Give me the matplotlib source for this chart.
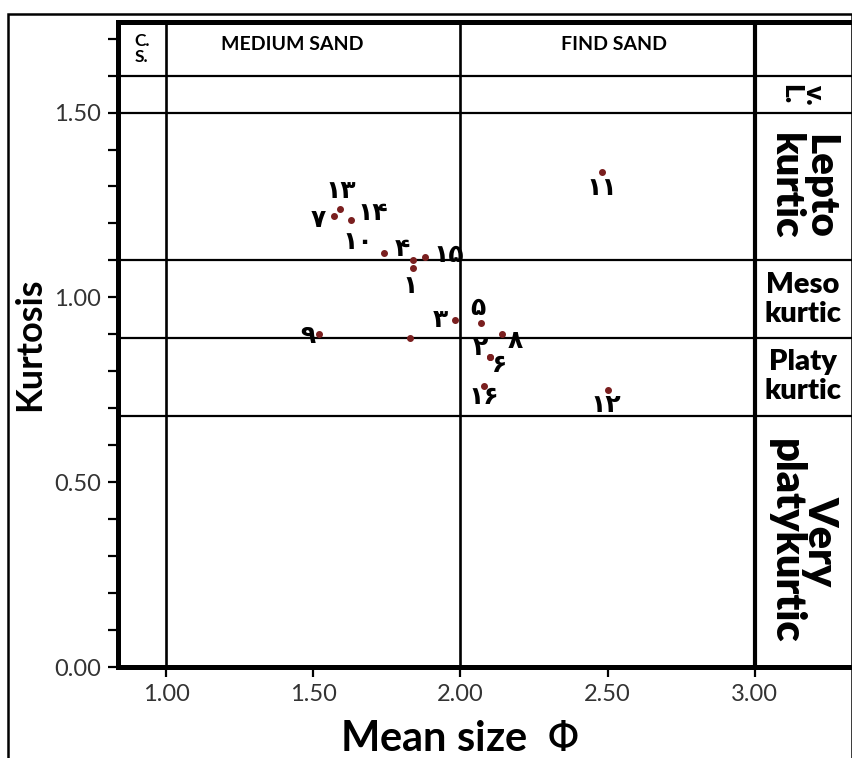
import numpy as np
import matplotlib
matplotlib.use("Agg")
import matplotlib.pyplot as plt
from matplotlib.patches import Rectangle
from matplotlib.ticker import MultipleLocator, FormatStrFormatter

# sample points: mean size (phi) vs kurtosis, labelled with Persian numerals
sample_ids = ["۱۱", "۱۳", "۷", "۱۴", "۱۰", "۴", "۱۵", "۱", "۳", "۵", "۸", "۲", "۶", "۱۶", "۱۲", "۹", ""]
mean_size = [2.48, 1.59, 1.57, 1.63, 1.74, 1.84, 1.88, 1.84, 1.98, 2.07, 2.14, 2.10, 2.10, 2.08, 2.50, 1.52, 1.83]
kurtosis = [1.34, 1.24, 1.22, 1.21, 1.12, 1.10, 1.11, 1.08, 0.94, 0.93, 0.90, 0.84, 0.84, 0.76, 0.75, 0.90, 0.89]

# class boundaries
size_bounds = [1.00, 2.00, 3.00]
kurt_bounds = [1.60, 1.50, 1.10, 0.89, 0.68]
size_classes = ["C.\nS.", "MEDIUM SAND", "FIND SAND"]
kurt_classes = ["v.\nL.", "Lepto\nkurtic", "Meso\nkurtic", "Platy\nkurtic", "Very\nplatykurtic"]

# label offsets in points (dx, dy)
offsets = [(0, -12), (1, 13), (-11, -3), (15, 5), (-19, 8), (-8, 8), (17, 1), (-2, -13),
           (-10, 0), (-2, 11), (10, -5), (-7, 6), (7, -6), (0, -8), (-1, -11), (-8, -1), None]

plt.rcParams["font.family"] = ["Lato", "DejaVu Sans"]
plt.rcParams["mathtext.fontset"] = "dejavusans"

fig = plt.figure(figsize=(8.53, 7.58), dpi=100)
ax = fig.add_axes([118 / 853, 1 - 667 / 758, (852 - 118) / 853, (667 - 22) / 758])
ax.set_xlim(0.837, 3.33)
ax.set_ylim(0, 1.745)

# outer frame
fig.add_artist(Rectangle((8 / 853, -0.05), (852 - 8) / 853, 1.05 - 14 / 758,
                         transform=fig.transFigure, fill=False, lw=1.8, ec="black"))

for s in ["left", "bottom", "top"]:
    ax.spines[s].set_linewidth(3.6)
ax.spines["right"].set_linewidth(1.0)

# class grid
for i, xb in enumerate(size_bounds):
    ax.axvline(xb, color="black", lw=3.0 if i == 2 else 1.9, zorder=1)
for yb in kurt_bounds:
    ax.axhline(yb, color="black", lw=1.6, zorder=1)

# header row
ax.text(0.918, 1.672, size_classes[0], ha="center", va="center", fontsize=12.5,
        fontweight="bold", linespacing=1.05)
ax.text(1.43, 1.683, size_classes[1], ha="center", va="center", fontsize=14, fontweight="bold")
ax.text(2.52, 1.683, size_classes[2], ha="center", va="center", fontsize=14, fontweight="bold")

# kurtosis class column
xc = 3.163
ax.text(xc, 1.55, kurt_classes[0], ha="center", va="center", rotation=270, fontsize=19,
        fontweight="heavy", linespacing=0.95)
ax.text(xc, 1.30, kurt_classes[1], ha="center", va="center", rotation=270, fontsize=29,
        fontweight="heavy", linespacing=0.9)
ax.text(xc, 0.995, kurt_classes[2], ha="center", va="center", fontsize=21,
        fontweight="heavy", linespacing=1.15)
ax.text(xc, 0.785, kurt_classes[3], ha="center", va="center", fontsize=21,
        fontweight="heavy", linespacing=1.15)
ax.text(xc, 0.34, kurt_classes[4], ha="center", va="center", rotation=270, fontsize=30,
        fontweight="heavy", linespacing=0.9)

# points
ax.plot(mean_size, kurtosis, "o", ms=4, color="#7a1f1f", zorder=3)
for lab, x, y, off in zip(sample_ids, mean_size, kurtosis, offsets):
    if not lab or off is None:
        continue
    ax.annotate(lab, (x, y), xytext=off, textcoords="offset points", ha="center", va="center",
                fontsize=18, fontweight="bold", family=["DejaVu Sans"], zorder=4)

# ticks
ax.set_xticks([1.0, 1.5, 2.0, 2.5, 3.0])
ax.xaxis.set_major_formatter(FormatStrFormatter("%.2f"))
ax.set_yticks([0, 0.5, 1.0, 1.5])
ax.yaxis.set_minor_locator(MultipleLocator(0.1))
ax.yaxis.set_major_formatter(FormatStrFormatter("%.2f"))
ax.tick_params(axis="both", which="both", direction="out", length=7, width=1.6,
               labelsize=17, labelcolor="#333333", pad=5)

ax.set_xlabel(r"Mean size  $\Phi$", fontsize=30, fontweight="bold")
ax.xaxis.set_label_coords(0.465, -0.112)
ax.xaxis.label.set_va("center")
ax.set_ylabel("Kurtosis", fontsize=26, fontweight="bold", labelpad=6)

fig.savefig("out.png", dpi=100)
